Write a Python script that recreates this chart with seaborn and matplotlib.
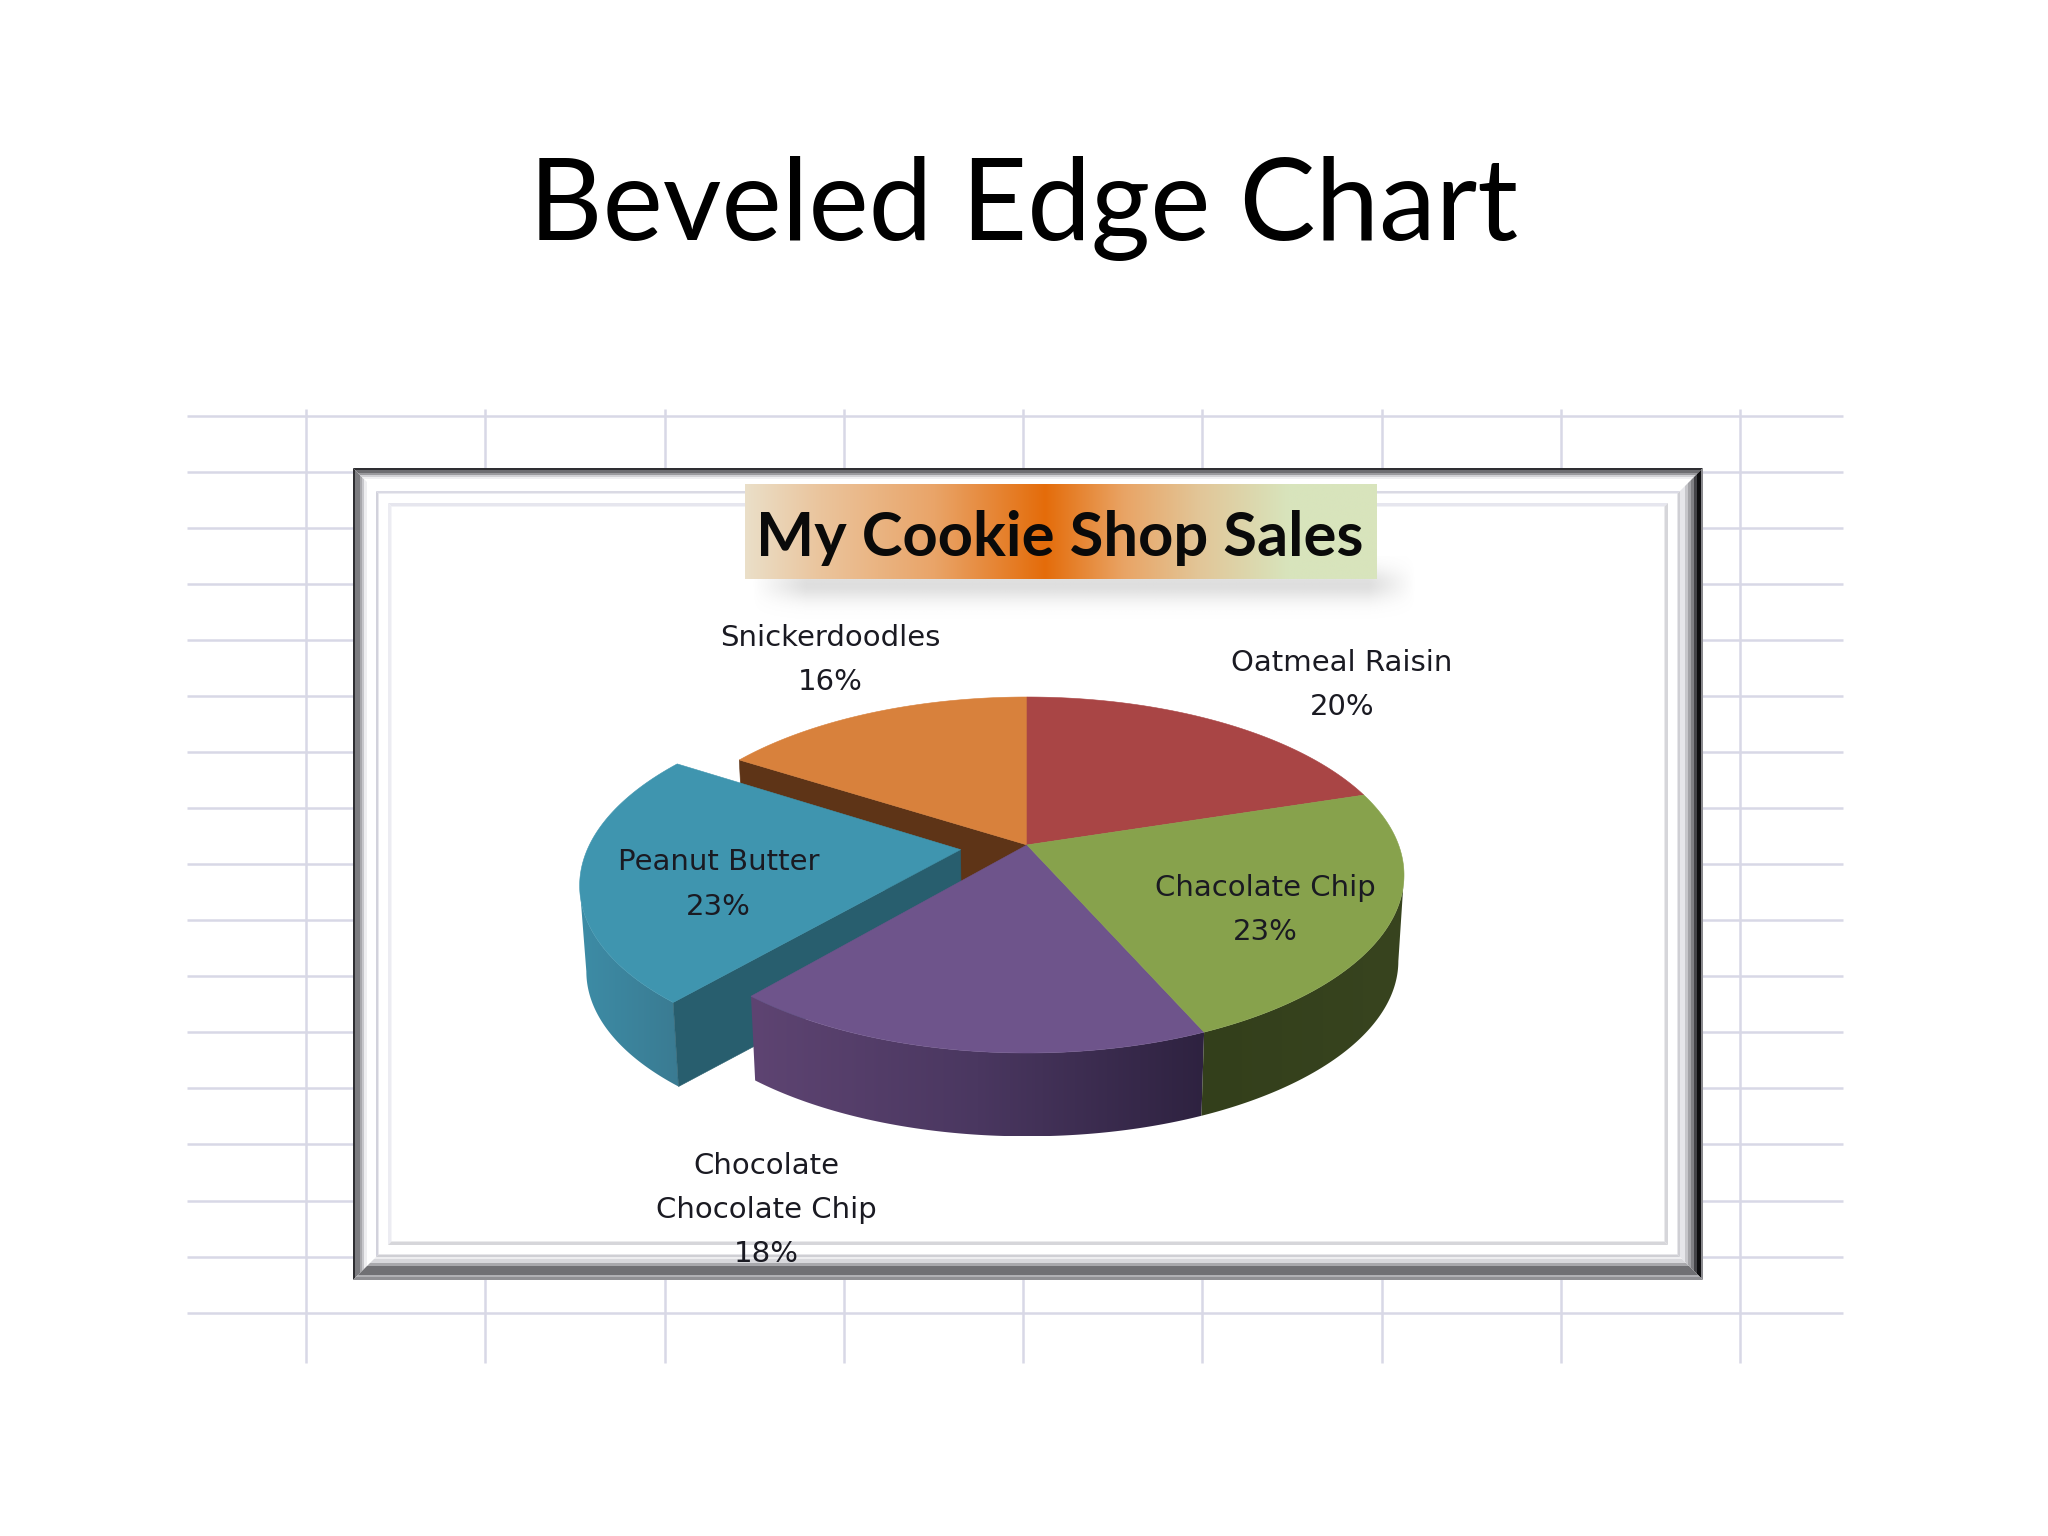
import numpy as np
import matplotlib
matplotlib.use("Agg")
import matplotlib.pyplot as plt
from matplotlib.patches import Polygon
import seaborn as sns

# ---- data ----
categories = ["Oatmeal Raisin", "Chacolate Chip", "Chocolate\nChocolate Chip", "Peanut Butter", "Snickerdoodles"]
shares = [20.1, 23.3, 17.8, 22.8, 16.0]
exploded = [0, 0, 0, 0.18, 0]
slide_title = "Beveled Edge Chart"
chart_title = "My Cookie Shop Sales"

# ---- style ----
sns.set_theme(style="white")
top_colors = sns.color_palette(["#A94545", "#87A24C", "#6E548B", "#3F95AF", "#D8813C"])
wall_ramps = [
    ["#6E2C2C", "#6E2C2C"],
    ["#333F1B", "#38441F"],
    ["#5E4472", "#4A3760", "#2E2240"],
    ["#3D8CA6", "#3A7B92"],
    ["#8A5224", "#8A5224"],
]
GRID = "#D8D8E6"
fig = plt.figure(figsize=(20.48, 15.36), dpi=100, facecolor="white")
ax = fig.add_axes([0, 0, 1, 1])
ax.set_xlim(0, 2048)
ax.set_ylim(1536, 0)
ax.axis("off")

# ---- slide title ----
ax.text(1024, 240, slide_title, ha="center", va="baseline", fontsize=82, family="Lato", color="black")

# ---- worksheet grid ----
ax.hlines(415.7 + 56.06 * np.arange(17), 187, 1843, color=GRID, lw=1.8, zorder=1)
ax.vlines(306 + 179.25 * np.arange(9), 409, 1363, color=GRID, lw=1.8, zorder=1)

# ---- beveled frame ----
L, T, R, B = 353, 468, 1703, 1280
ax.add_patch(plt.Rectangle((L, T), R - L, B - T, fc="white", ec="none", zorder=2))


def band(side, a, b, color):
    """Mitred strip between insets a and b on one side of the frame."""
    if side == "t":
        p = [(L + a, T + a), (R - a, T + a), (R - b, T + b), (L + b, T + b)]
    elif side == "b":
        p = [(L + a, B - a), (R - a, B - a), (R - b, B - b), (L + b, B - b)]
    elif side == "l":
        p = [(L + a, T + a), (L + a, B - a), (L + b, B - b), (L + b, T + b)]
    else:
        p = [(R - a, T + a), (R - a, B - a), (R - b, B - b), (R - b, T + b)]
    ax.add_patch(Polygon(p, fc=color, ec="none", zorder=3))


for a, b, c in [(0, 2, "#2E2E32"), (2, 7, "#7C7C80"), (7, 9, "#A8A8AC"), (9, 11, "#C8C8CC"), (11, 14, "#EEEEF0")]:
    band("l", a, b, c)
for a, b, c in [(0, 2, "#2E2E32"), (2, 5, "#6E6E72"), (5, 7, "#9A9A9E"), (7, 9, "#D0D0D4"), (9, 11, "#F0F0F2")]:
    band("t", a, b, c)
for a, b, c in [(0, 2, "#8A8A8E"), (2, 6, "#0E0E10"), (6, 9, "#444448"), (9, 12, "#808084"),
                (12, 15, "#A4A4A8"), (15, 18, "#C6C6CA"), (18, 23, "#E6E6EA")]:
    band("r", a, b, c)
for a, b, c in [(0, 3, "#909094"), (3, 5, "#B0B0B4"), (5, 14, "#707074"), (14, 17, "#A8A8AC"),
                (17, 21, "#D8D8DC"), (21, 25, "#EEEEF0")]:
    band("b", a, b, c)
# two thin inner rules
for a, b, ct, cl, cb in [(23, 25.5, "#DADAE4", "#D2D2DC", "#CFCFD4"), (35, 38.5, "#E6E6EE", "#ECECF2", "#D6D6DA")]:
    band("t", a, b, ct); band("l", a, b, cl); band("b", a, b, cb); band("r", a, b, cb)

# ---- chart title bar ----
stop_pos = [0.0, 0.12, 0.30, 0.475, 0.60, 0.72, 0.86, 1.0]
stop_hex = ["#EADFC8", "#EBC49C", "#E9A468", "#E46C0A", "#E9A465", "#E2C698", "#D8E4BC", "#D8E4BC"]
stop_rgb = np.array(sns.color_palette(stop_hex))
grid01 = np.linspace(0, 1, 400)
bar = np.stack([np.interp(grid01, stop_pos, stop_rgb[:, c]) for c in range(3)], axis=1)[None, :, :]
ax.imshow(bar, extent=(745, 1377, 579, 484), aspect="auto", zorder=4, interpolation="bilinear")
# soft shadow below the bar
sx = np.clip(np.minimum(grid01 / 0.08, (1 - grid01) / 0.07), 0, 1)
rows = np.linspace(556, 630, 90)
sy = np.exp(-((rows - 584) / 17.0) ** 2)
shadow = np.zeros((90, 400, 4))
shadow[..., :3] = 0.6
shadow[..., 3] = np.outer(sy, sx) * 0.32
ax.imshow(shadow, extent=(752, 1416, 630, 556), aspect="auto", zorder=3.5, interpolation="bilinear")
ax.text(1060, 538, chart_title, ha="center", va="center", fontsize=44.3, family="Lato", weight="bold", color="#0A0A0A", zorder=6)

# ---- perspective pie ----
CX, CY, RX, RY = 1027.0, 875.0, 377.0, 178.0
K = -0.169          # perspective of the disc: its centre is seen above the middle of the ellipse
S = np.sqrt(1 - K ** 2)
DEPTH, SHRINK = 86.0, 0.985


def project(X, Y, bottom=False):
    d = 1 + K * Y
    u, v = X * S / d, (Y + K) / d
    if bottom:
        return CX + RX * SHRINK * u, CY + DEPTH + RY * SHRINK * v
    return CX + RX * u, CY + RY * v


def disc(theta, radius, off):
    return off[0] + radius * np.sin(theta), off[1] - radius * np.cos(theta)


edges = np.deg2rad(np.cumsum([0] + shares) / np.sum(shares) * 360.0)


def slice_geometry(i):
    mid = 0.5 * (edges[i] + edges[i + 1])
    off = (exploded[i] * np.sin(mid), -exploded[i] * np.cos(mid))
    th = np.linspace(edges[i], edges[i + 1], 160)
    return th, off


def draw_top(i, z):
    th, off = slice_geometry(i)
    X, Y = disc(th, 1.0, off)
    x, y = project(np.r_[off[0], X], np.r_[off[1], Y])
    ax.add_patch(Polygon(np.c_[x, y], fc=top_colors[i], ec=top_colors[i], lw=0.4, zorder=z))


def draw_outer_wall(i, z):
    th, off = slice_geometry(i)
    X, Y = disc(th, 1.0, off)
    xt, yt = project(X, Y)
    xb, yb = project(X, Y, bottom=True)
    # only the part of the rim that faces the viewer: rightmost to leftmost point
    b = int(np.argmin(xt)) + 1
    a = int(np.argmax(xt[:b]))
    outline = np.r_[np.c_[xt[a:b], yt[a:b]], np.c_[xb[a:b], yb[a:b]][::-1]]
    clip = Polygon(outline, fc="none", ec="none", transform=ax.transData)
    ax.add_patch(clip)
    ramp = np.array(sns.blend_palette(wall_ramps[i], 256))[None, :, :]
    im = ax.imshow(ramp, extent=(outline[:, 0].min(), outline[:, 0].max(), outline[:, 1].max(), outline[:, 1].min()),
                   aspect="auto", zorder=z, interpolation="bilinear")
    im.set_clip_path(clip)


def draw_radial_wall(i, theta, color, z):
    _, off = slice_geometry(i)
    X, Y = disc(np.array([theta]), 1.0, off)
    xs, ys = np.r_[off[0], X[0]], np.r_[off[1], Y[0]]
    xt, yt = project(xs, ys)
    xb, yb = project(xs, ys, bottom=True)
    q = [(xt[0], yt[0]), (xt[1], yt[1]), (xb[1], yb[1]), (xb[0], yb[0])]
    ax.add_patch(Polygon(q, fc=color, ec=color, lw=0.4, zorder=z))


draw_radial_wall(4, edges[4], "#5E3417", 10)
draw_top(4, 11)
draw_top(0, 11)
draw_outer_wall(3, 12)
draw_radial_wall(3, edges[3], "#285E6E", 12.5)
draw_top(3, 13)
draw_outer_wall(2, 14)
draw_outer_wall(1, 14)
draw_top(2, 15)
draw_top(1, 15)

# ---- data labels ----
label_centres = [(1342, 685), (1265, 910), (766, 1210), (718.5, 884.5), (830, 660)]
for name, share, (lx, ly) in zip(categories, shares, label_centres):
    ax.text(lx, ly, f"{name}\n{share:.0f}%", ha="center", va="center", fontsize=21, family="DejaVu Sans",
            color="#1A1A22", linespacing=1.75, zorder=20)

ax.set_xlim(0, 2048)
ax.set_ylim(1536, 0)
fig.savefig("out.png", dpi=100, facecolor="white")
